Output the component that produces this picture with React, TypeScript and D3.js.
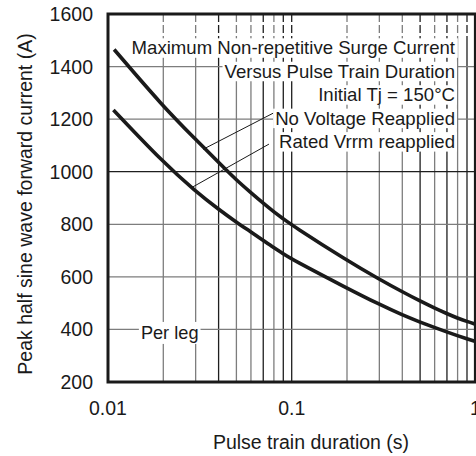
import React, { useEffect, useRef } from "react";
import * as d3 from "d3";

// ---- data ----
const DURATION_NO_V = [0.0108, 0.02, 0.03, 0.04, 0.05, 0.06, 0.07, 0.08, 0.09, 0.1, 0.2, 0.3, 0.4, 0.5, 0.6, 0.7, 0.8, 0.9, 1.0];
const CURRENT_NO_V = [1465, 1247, 1123, 1035, 968, 920, 880, 847, 821, 797, 662, 591, 543, 508, 481, 460, 443, 430, 420];

const DURATION_RATED = [0.0107, 0.02, 0.03, 0.04, 0.05, 0.06, 0.07, 0.08, 0.09, 0.1, 0.2, 0.3, 0.4, 0.5, 0.6, 0.7, 0.8, 0.9, 1.0];
const CURRENT_RATED = [1235, 1035, 925, 857, 808, 771, 739, 711, 688, 667, 557, 495, 455, 428, 407, 390, 376, 364, 354];

const X_TICKS = [0.01, 0.1, 1];
const X_TICK_LABELS = ["0.01", "0.1", "1"];
const Y_TICKS = [200, 400, 600, 800, 1000, 1200, 1400, 1600];
const X_GRID = [0.02, 0.03, 0.04, 0.05, 0.06, 0.07, 0.08, 0.09, 0.1, 0.2, 0.3, 0.4, 0.5, 0.6, 0.7, 0.8, 0.9];
const X_GRID_DARK = [0.04, 0.07, 0.09, 0.1, 0.5, 0.7, 0.9];
const Y_GRID_DARK = [1000];

const TITLE_LINES = [
  "Maximum Non-repetitive Surge Current",
  "Versus Pulse Train Duration",
  "Initial Tj = 150°C",
  "No Voltage Reapplied",
  "Rated Vrrm reapplied",
];
// leader lines in data units: [label end, curve end]
const LEADER_NO_V: [number, number][] = [[0.0794, 1223], [0.0329, 1085]];
const LEADER_RATED: [number, number][] = [[0.0752, 1105], [0.0286, 940]];
const PER_LEG_LABEL = "Per leg";
const PER_LEG_POS: [number, number] = [0.0151, 400];

const X_LABEL = "Pulse train duration (s)";
const Y_LABEL = "Peak half sine wave forward current (A)";

const W = 476;
const H = 456;
const FONT = "'Liberation Sans', Arial, Helvetica, sans-serif";

export default function App() {
  const ref = useRef<SVGSVGElement>(null);

  useEffect(() => {
    document.body.style.margin = "0";
    const svg = d3.select(ref.current!);
    svg.selectAll("*").remove();

    const x = d3.scaleLog().domain([0.01, 1]).range([108, 475.4]);
    const y = d3.scaleLinear().domain([200, 1600]).range([382, 14]);

    const g = svg.append("g");

    g.append("rect").attr("x", 0).attr("y", 0).attr("width", W).attr("height", H).attr("fill", "#fff");

    const gridColor = (dark: boolean) => (dark ? "#1e1e1e" : "#7d7d7d");

    // vertical grid: solid body + dashed top band
    const topBand = 37;
    g.selectAll(".vg")
      .data(X_GRID)
      .enter()
      .append("line")
      .attr("x1", (d) => x(d))
      .attr("x2", (d) => x(d))
      .attr("y1", topBand)
      .attr("y2", y(200))
      .attr("stroke", (d) => gridColor(X_GRID_DARK.includes(d)))
      .attr("stroke-width", 1.3);
    g.selectAll(".vgt")
      .data(X_GRID)
      .enter()
      .append("line")
      .attr("x1", (d) => x(d))
      .attr("x2", (d) => x(d))
      .attr("y1", y(1600))
      .attr("y2", topBand)
      .attr("stroke", (d) => gridColor(X_GRID_DARK.includes(d)))
      .attr("stroke-width", 1.3)
      .attr("stroke-dasharray", "8,3");

    g.selectAll(".hg")
      .data(Y_TICKS.filter((v) => v > 200 && v < 1600))
      .enter()
      .append("line")
      .attr("x1", x(0.01))
      .attr("x2", x(1))
      .attr("y1", (d) => y(d))
      .attr("y2", (d) => y(d))
      .attr("stroke", (d) => gridColor(Y_GRID_DARK.includes(d)))
      .attr("stroke-width", 1.3);

    // curves
    const line = d3
      .line<[number, number]>()
      .x((d) => x(d[0]))
      .y((d) => y(d[1]))
      .curve(d3.curveBasis);

    const s1 = DURATION_NO_V.map((t, i) => [t, CURRENT_NO_V[i]] as [number, number]);
    const s2 = DURATION_RATED.map((t, i) => [t, CURRENT_RATED[i]] as [number, number]);
    [s1, s2].forEach((s) => {
      g.append("path")
        .attr("d", line(s)!)
        .attr("fill", "none")
        .attr("stroke", "#1a1a1a")
        .attr("stroke-width", 3.6)
        .attr("stroke-linecap", "butt");
    });

    // leader lines
    [LEADER_NO_V, LEADER_RATED].forEach((l) => {
      g.append("line")
        .attr("x1", x(l[0][0]))
        .attr("y1", y(l[0][1]))
        .attr("x2", x(l[1][0]))
        .attr("y2", y(l[1][1]))
        .attr("stroke", "#1a1a1a")
        .attr("stroke-width", 1);
    });

    // annotation text with white boxes
    const ann = g.append("g");
    const baseY0 = 54.3;
    const step = 23.45;
    TITLE_LINES.forEach((txt, i) => {
      const by = baseY0 + i * step;
      const rect = ann.append("rect").attr("fill", "#fff");
      const t = ann
        .append("text")
        .attr("x", 455)
        .attr("y", by)
        .attr("text-anchor", "end")
        .attr("font-family", FONT)
        .attr("font-size", 18.6)
        .attr("fill", "#1a1a1a")
        .text(txt);
      const bb = (t.node() as SVGTextElement).getBBox();
      rect
        .attr("x", bb.x - 2)
        .attr("y", by - 16)
        .attr("width", bb.width + 4)
        .attr("height", 19.5);
    });

    // Per leg
    {
      const px = x(PER_LEG_POS[0]);
      const py = y(PER_LEG_POS[1]) + 9.5;
      const rect = ann.append("rect").attr("fill", "#fff");
      const t = ann
        .append("text")
        .attr("x", px)
        .attr("y", py)
        .attr("font-family", FONT)
        .attr("font-size", 18.2)
        .attr("fill", "#1a1a1a")
        .text(PER_LEG_LABEL);
      const bb = (t.node() as SVGTextElement).getBBox();
      rect
        .attr("x", bb.x - 2)
        .attr("y", py - 17)
        .attr("width", bb.width + 4)
        .attr("height", 22);
    }

    // frame
    g.append("rect")
      .attr("x", x(0.01))
      .attr("y", y(1600))
      .attr("width", x(1) - x(0.01))
      .attr("height", y(200) - y(1600))
      .attr("fill", "none")
      .attr("stroke", "#1a1a1a")
      .attr("stroke-width", 3);

    // y tick labels
    g.selectAll(".yt")
      .data(Y_TICKS)
      .enter()
      .append("text")
      .attr("x", 93)
      .attr("y", (d) => y(d) + 7)
      .attr("text-anchor", "end")
      .attr("font-family", FONT)
      .attr("font-size", 19.5)
      .attr("fill", "#1a1a1a")
      .text((d) => String(d));

    // x tick labels
    g.selectAll(".xt")
      .data(X_TICKS)
      .enter()
      .append("text")
      .attr("x", (d) => x(d))
      .attr("y", 415)
      .attr("text-anchor", "middle")
      .attr("font-family", FONT)
      .attr("font-size", 19.5)
      .attr("fill", "#1a1a1a")
      .text((d, i) => X_TICK_LABELS[i]);

    // axis titles
    g.append("text")
      .attr("x", 311)
      .attr("y", 449)
      .attr("text-anchor", "middle")
      .attr("font-family", FONT)
      .attr("font-size", 19.5)
      .attr("fill", "#1a1a1a")
      .text(X_LABEL);

    g.append("text")
      .attr("transform", "translate(32,204) rotate(-90)")
      .attr("text-anchor", "middle")
      .attr("font-family", FONT)
      .attr("font-size", 19.5)
      .attr("fill", "#1a1a1a")
      .text(Y_LABEL);
  }, []);

  return (
    <svg
      ref={ref}
      width={W}
      height={H}
      style={{ position: "absolute", left: 0, top: 0, display: "block" }}
    />
  );
}
